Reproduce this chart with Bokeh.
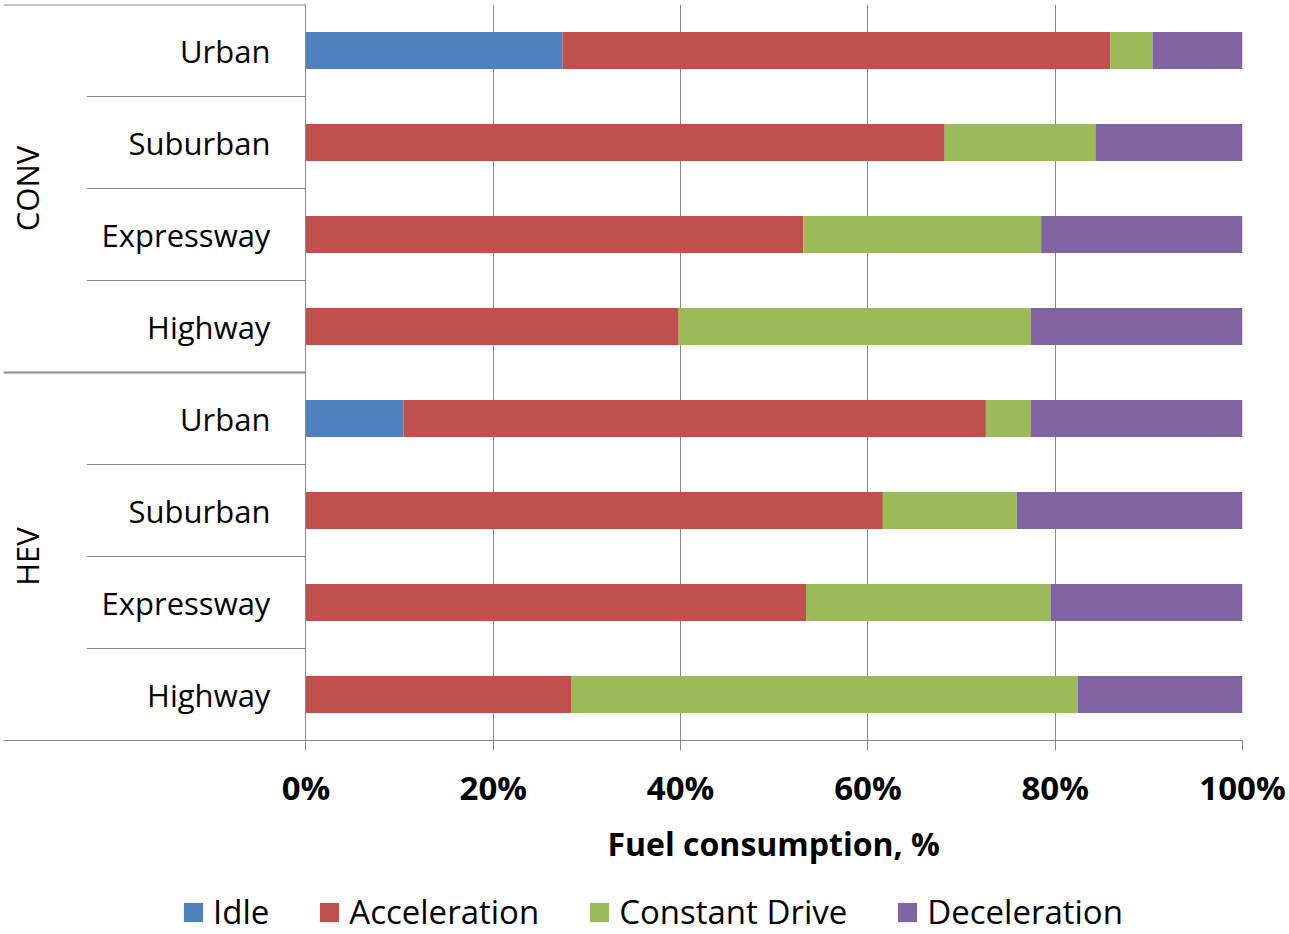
from bokeh.plotting import figure
from bokeh.layouts import column
from bokeh.models import (ColumnDataSource, Range1d, FixedTicker, PrintfTickFormatter,
                          Legend, LegendItem, Title)
from bokeh.core.properties import value
from bokeh.embed import file_html
from bokeh.resources import INLINE
import math

# ---------------- data ----------------
groups = ["CONV", "HEV"]
roads = ["Urban", "Suburban", "Expressway", "Highway"]
series = ["Idle", "Acceleration", "Constant Drive", "Deceleration"]
colors = ["#4F81BD", "#C0504D", "#9BBB59", "#8064A2"]

# rows from top to bottom: CONV Urban..Highway, HEV Urban..Highway
idle = [27.4, 0.0, 0.0, 0.0, 10.4, 0.0, 0.0, 0.0]
acceleration = [58.5, 68.2, 53.1, 39.8, 62.2, 61.6, 53.4, 28.3]
constant_drive = [4.5, 16.1, 25.4, 37.6, 4.8, 14.3, 26.1, 54.1]
deceleration = [9.6, 15.7, 21.5, 22.6, 22.6, 24.1, 20.5, 17.6]

x_ticks = [0, 20, 40, 60, 80, 100]

# ---------------- layout ----------------
FONT = "Open Sans"
GRID = "#8a8a8a"
n_rows = len(groups) * len(roads)
row_y = [n_rows - 0.5 - i for i in range(n_rows)]
row_labels = [r for g in groups for r in roads]

x_left = -32.3
p = figure(frame_width=1239, frame_height=736, x_range=Range1d(x_left, 100),
           y_range=Range1d(0, n_rows),
           output_backend="svg", toolbar_location=None, y_axis_location=None,
           min_border_left=3, min_border_right=44, min_border_top=4, min_border_bottom=138)
p.outline_line_color = None
p.background_fill_color = "white"
p.border_fill_color = "white"

src = ColumnDataSource(dict(y=row_y, Idle=idle, Acceleration=acceleration,
                            **{"Constant Drive": constant_drive}, Deceleration=deceleration))
p.hbar_stack(series, y="y", height=0.4, color=colors, line_color=None, source=src)

# axis
p.xaxis.ticker = FixedTicker(ticks=x_ticks)
p.xaxis.formatter = PrintfTickFormatter(format="%d%%")
p.xaxis.axis_line_color = GRID
p.xaxis.major_tick_line_color = GRID
p.xaxis.major_tick_out = 10
p.xaxis.major_tick_in = 0
p.xaxis.minor_tick_line_color = None
p.xaxis.major_label_text_font = FONT
p.xaxis.major_label_text_font_style = "bold"
p.xaxis.major_label_text_font_size = "33px"
p.xaxis.major_label_text_color = "black"
p.xaxis.major_label_standoff = 14

p.xgrid.ticker = FixedTicker(ticks=x_ticks)
p.xgrid.grid_line_color = GRID
p.ygrid.grid_line_color = None

# category separator lines
sep_y = [n_rows, n_rows / 2]
p.segment(x0=[x_left] * len(sep_y), x1=[0] * len(sep_y), y0=sep_y, y1=sep_y,
          line_color=GRID, line_width=2)
inner_y = [k for k in range(1, n_rows) if k != n_rows // 2]
p.segment(x0=[-23.4] * len(inner_y), x1=[0] * len(inner_y), y0=inner_y, y1=inner_y,
          line_color=GRID, line_width=1.2)

# category labels
p.text(x=[-3.8] * n_rows, y=row_y, text=row_labels, text_align="right",
       text_baseline="middle", text_font=value(FONT), text_font_size="31px",
       text_color="black")
p.text(x=[-29.8] * len(groups), y=[n_rows * 3 / 4, n_rows / 4], text=groups,
       angle=math.pi / 2, text_align="center", text_baseline="middle",
       text_font=value(FONT), text_font_size="31px", text_color="black")

# axis title positioned over the bar area
title = Title(text="Fuel consumption, %", align="left", offset=604,
              text_font=FONT, text_font_size="32px", text_font_style="bold",
              text_color="black", standoff=14)
p.add_layout(title, "below")

# ---------------- legend strip ----------------
lf = figure(width=1286, height=56, x_range=Range1d(0, 1), y_range=Range1d(0, 1),
            output_backend="svg", toolbar_location=None,
            x_axis_location=None, y_axis_location=None,
            min_border_left=0, min_border_right=0, min_border_top=0, min_border_bottom=0)
lf.outline_line_color = None
lf.xgrid.grid_line_color = None
lf.ygrid.grid_line_color = None
# placeholder renderers (kept outside the visible range) that only supply legend swatches
dummy = ColumnDataSource(dict(y=[-10.0], right=[0.5]))
leg_rends = [lf.hbar(y="y", right="right", height=0.1, color=c, line_color=None, source=dummy)
             for c in colors]
legend = Legend(items=[LegendItem(label=s, renderers=[r]) for s, r in zip(series, leg_rends)],
                orientation="horizontal", location=(178, 0),
                glyph_width=24, glyph_height=24, label_standoff=8, spacing=48,
                label_text_font=FONT, label_text_font_size="33px", label_text_color="black",
                border_line_color=None, background_fill_alpha=0, padding=0, margin=0)
lf.add_layout(legend)

open("out.html", "w").write(file_html(column(p, lf, spacing=0), INLINE))
